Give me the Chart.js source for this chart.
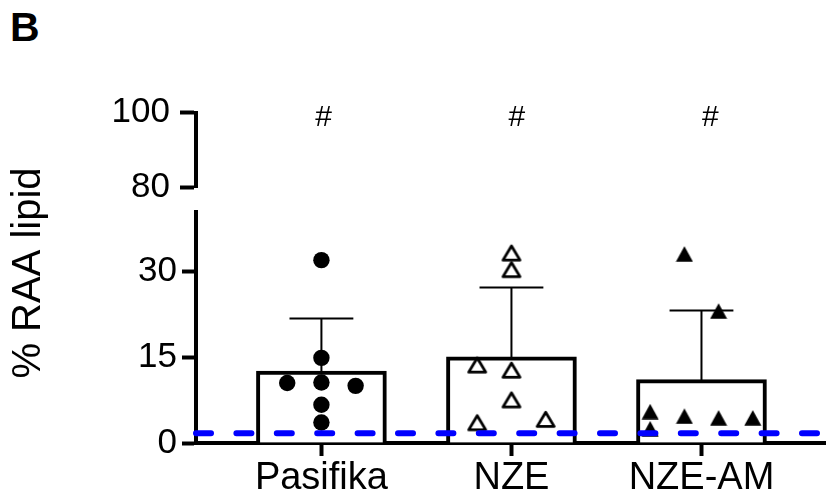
<!DOCTYPE html>
<html>
<head>
<meta charset="utf-8">
<script src="https://cdn.jsdelivr.net/npm/chart.js@4.4.1/dist/chart.umd.min.js"></script>
<style>
  html, body { margin: 0; padding: 0; background: #fff; }
  #wrap { position: relative; width: 836px; height: 498px; overflow: hidden; }
  #wrap canvas { position: absolute; left: 0; top: 0; }
  #panel { position: absolute; left: 10px; top: 7px; font: bold 41px 'Liberation Sans', Arial, sans-serif; line-height: 41px; color: #000; }
</style>
</head>
<body>
<div id="wrap">
  <div id="panel">B</div>
  <canvas id="lower" width="836" height="498"></canvas>
  <canvas id="upper" width="836" height="498"></canvas>
</div>
<script>
// Groups and summary statistics (mean and SD of % RAA lipid)
const groups = ['Pasifika', 'NZE', 'NZE-AM'];
const meanRAA = [12.6, 15.1, 11.1];
const sdRAA = [9.2, 12.1, 12.1];

// Individual measurements per group, with the column slot each point sits in
const pasifikaRAA = [32.0, 14.9, 10.5, 10.6, 10.0, 6.7, 3.6];
const pasifikaSlot = [0, 0, -1, 0, 1, 0, 0];
const nzeRAA = [33.3, 30.4, 13.7, 12.8, 7.6, 3.6, 4.2];
const nzeSlot = [0, 0, -1, 0, 0, -1, 1];
const nzeAmRAA = [33.1, 23.1, 5.5, 4.7, 4.4, 4.4, 2.5];
const nzeAmSlot = [-0.5, 0.5, -1.5, -0.5, 0.5, 1.5, -1.5];

// Detection limit drawn as a dashed reference line
const detectionLimit = 1.7;

// Significance marks shown in the upper axis segment
const sigMarks = ['#', '#', '#'];
const sigLevel = 98.7;

// Tick values of the broken y axis
const lowerTicks = [0, 15, 30];
const upperTicks = [80, 100];

const FONT = "'Liberation Sans', Arial, sans-serif";
const X_MIN = -0.66, X_MAX = 2.65;
const SLOT = 0.18;       // horizontal spread between scatter columns
const CAP = 0.168;       // half width of the error bar cap

function columnPoints(values, slots, idx) {
  return values.map((v, i) => ({ x: idx + slots[i] * SLOT, y: v }));
}

// Triangle symbols centred on their bounding box
function triangleSymbol(filled) {
  const c = document.createElement('canvas');
  const w = filled ? 18 : 22, h = filled ? 16 : 20;
  c.width = w; c.height = h;
  const g = c.getContext('2d');
  g.beginPath();
  if (filled) {
    g.moveTo(9, 0.3); g.lineTo(17.5, 15.7); g.lineTo(0.5, 15.7);
  } else {
    g.moveTo(11, 3.2); g.lineTo(19.5, 17.4); g.lineTo(2.5, 17.4);
  }
  g.closePath();
  if (filled) {
    g.fillStyle = '#000'; g.fill();
  } else {
    g.fillStyle = '#fff'; g.fill();
    g.lineWidth = 2.8; g.lineJoin = 'round'; g.strokeStyle = '#000'; g.stroke();
  }
  return c;
}
const openTri = triangleSymbol(false);
const solidTri = triangleSymbol(true);

// Error bars (upper arm only) painted right after the bars
const errorBars = {
  id: 'errorBars',
  afterDatasetDraw(chart, args) {
    if (chart.data.datasets[args.index].type !== 'bar') return;
    const xs = chart.scales.x, ys = chart.scales.y, ctx = chart.ctx;
    ctx.save();
    ctx.strokeStyle = '#000';
    ctx.lineWidth = 2;
    meanRAA.forEach((m, i) => {
      const x = xs.getPixelForValue(i);
      const y0 = ys.getPixelForValue(m);
      const y1 = ys.getPixelForValue(m + sdRAA[i]);
      const hw = xs.getPixelForValue(i + CAP) - x;
      ctx.beginPath();
      ctx.moveTo(x, y0 + 2); ctx.lineTo(x, y1);
      ctx.moveTo(x - hw, y1); ctx.lineTo(x + hw, y1);
      ctx.stroke();
    });
    ctx.restore();
  }
};

// Shared y-axis title spanning both axis segments
const yTitle = {
  id: 'yTitle',
  afterDraw(chart) {
    const ctx = chart.ctx;
    ctx.save();
    ctx.translate(29, 273);
    ctx.rotate(-Math.PI / 2);
    ctx.font = '40px ' + FONT;
    ctx.fillStyle = '#000';
    ctx.textAlign = 'center';
    ctx.textBaseline = 'middle';
    ctx.fillText('% RAA lipid', 0, 0);
    ctx.restore();
  }
};

const sigLabels = {
  id: 'sigLabels',
  afterDatasetsDraw(chart) {
    const xs = chart.scales.x, ys = chart.scales.y, ctx = chart.ctx;
    ctx.save();
    ctx.font = '30px ' + FONT;
    ctx.fillStyle = '#000';
    ctx.textAlign = 'center';
    ctx.textBaseline = 'middle';
    sigMarks.forEach((s, i) => ctx.fillText(s, xs.getPixelForValue(i), ys.getPixelForValue(sigLevel)));
    ctx.restore();
  }
};

const axisGrid = (len) => ({ offset: false, drawOnChartArea: false, drawTicks: true, tickLength: len, tickWidth: 4, tickColor: '#000', color: '#000' });
const axisBorder = { display: true, width: 4, color: '#000' };

// Lower segment: bars, points, detection limit, category axis
new Chart(document.getElementById('lower'), {
  type: 'bar',
  data: {
    datasets: [
      {
        type: 'line', label: 'Detection limit',
        data: [{ x: X_MIN, y: detectionLimit }, { x: X_MAX, y: detectionLimit }],
        borderColor: '#0000ff', borderWidth: 6, borderDash: [15, 25.4], borderCapStyle: 'round',
        pointRadius: 0, fill: false, clip: false, order: 0
      },
      {
        type: 'scatter', label: 'Pasifika',
        data: columnPoints(pasifikaRAA, pasifikaSlot, 0),
        pointStyle: 'circle', pointRadius: 8.2, backgroundColor: '#000', borderWidth: 0, order: 1
      },
      {
        type: 'scatter', label: 'NZE',
        data: columnPoints(nzeRAA, nzeSlot, 1),
        pointStyle: openTri, pointRadius: 10, order: 1
      },
      {
        type: 'scatter', label: 'NZE-AM',
        data: columnPoints(nzeAmRAA, nzeAmSlot, 2),
        pointStyle: solidTri, pointRadius: 10, order: 1
      },
      {
        type: 'bar', label: 'Mean',
        data: meanRAA.map((m, i) => ({ x: i, y: m })),
        backgroundColor: '#fff', borderColor: '#000', borderWidth: 4,
        barThickness: 130, order: 2
      }
    ]
  },
  options: {
    responsive: false, animation: false, events: [],
    layout: { padding: { top: 211.6, left: 0, right: 0, bottom: 0 } },
    plugins: { legend: { display: false }, tooltip: { enabled: false } },
    scales: {
      x: {
        type: 'linear', min: X_MIN, max: X_MAX, offset: false,
        afterBuildTicks: s => { s.ticks = groups.map((g, i) => ({ value: i })); },
        afterFit: s => { s.height = 55; },
        ticks: { callback: v => groups[v], font: { family: FONT, size: 38 }, color: '#000', padding: 0, maxRotation: 0, autoSkip: false },
        grid: axisGrid(13), border: axisBorder
      },
      y: {
        min: 0, max: 40.5,
        afterBuildTicks: s => { s.ticks = lowerTicks.map(v => ({ value: v })); },
        afterFit: s => { s.width = 196; },
        ticks: { font: { family: FONT, size: 35 }, color: '#000', padding: 5 },
        grid: axisGrid(14), border: axisBorder
      }
    }
  },
  plugins: [errorBars, yTitle]
});

// Upper segment: 80–100 with significance marks
new Chart(document.getElementById('upper'), {
  type: 'scatter',
  data: { datasets: [] },
  options: {
    responsive: false, animation: false, events: [],
    layout: { padding: { top: 112.7, left: 0, right: 0, bottom: 311 } },
    plugins: { legend: { display: false }, tooltip: { enabled: false } },
    scales: {
      x: { type: 'linear', min: X_MIN, max: X_MAX, offset: false, display: false },
      y: {
        min: 80, max: 100,
        afterBuildTicks: s => { s.ticks = upperTicks.map(v => ({ value: v })); },
        afterFit: s => { s.width = 196; },
        ticks: { font: { family: FONT, size: 35 }, color: '#000', padding: 10 },
        grid: axisGrid(16), border: axisBorder
      }
    }
  },
  plugins: [sigLabels]
});
</script>
</body>
</html>
